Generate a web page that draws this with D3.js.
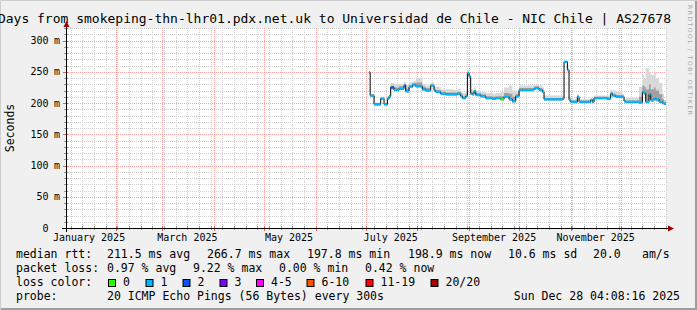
<!DOCTYPE html>
<html><head><meta charset="utf-8">
<script src="https://cdn.jsdelivr.net/npm/d3@7"></script>
<style>
html,body{margin:0;padding:0;background:#f0f0f0;}
svg{display:block;font-family:"DejaVu Sans Mono",monospace;}
</style>
</head><body>
<svg id="c" width="697" height="310"></svg>
<script>
// ---- data ----
const dates = ["2025-07-03T00:00Z","2025-07-03T16:00Z","2025-07-06","2025-07-08","2025-07-10","2025-07-12","2025-07-14","2025-07-15","2025-07-16","2025-07-18",
"2025-07-21","2025-07-24","2025-07-25","2025-07-27","2025-07-29","2025-07-31","2025-08-04","2025-08-06","2025-08-09","2025-08-11",
"2025-08-12","2025-08-15","2025-08-18","2025-08-23","2025-08-25","2025-08-27","2025-08-28","2025-08-30","2025-08-31","2025-09-01",
"2025-09-02","2025-09-03","2025-09-04","2025-09-05","2025-09-08","2025-09-11","2025-09-15","2025-09-17","2025-09-20","2025-09-22",
"2025-09-25","2025-09-27","2025-09-29","2025-10-01","2025-10-03","2025-10-10","2025-10-11","2025-10-13","2025-10-15","2025-10-16",
"2025-10-27","2025-10-28","2025-10-29","2025-10-30","2025-10-31","2025-11-01","2025-11-05","2025-11-06","2025-11-13","2025-11-14",
"2025-11-15","2025-11-23","2025-11-25","2025-11-26","2025-11-28","2025-12-02","2025-12-03","2025-12-04","2025-12-12","2025-12-14",
"2025-12-15","2025-12-16","2025-12-18","2025-12-19","2025-12-21","2025-12-22","2025-12-24","2025-12-26","2025-12-27"];
const medianMs = [249,212,198,198,207,198,207,211,225,221, 223,228,219,226,229,227,222,220,228,220,
218,215,214,214,215,211,208,211,248,242, 215,214,219,213,211,208,207,208,206,210,
206,203,211,221,221,223,224,221,218,206, 207,266,266,253,205,202,210,202,205,202,
208,207,215,212,210,210,203,202,201,218, 216,202,214,205,207,206,202,200,199];
const smokeHi = [252,215,201,201,210,201,210,214,232,230, 231,234,229,233,235,240,230,228,233,227,
226,222,222,221,222,218,216,218,252,246, 222,221,224,220,218,216,215,216,218,225,
228,220,218,228,228,229,230,228,225,212, 212,268,268,256,210,206,214,206,208,206,
212,212,222,220,218,214,206,208,226,245, 240,256,250,245,250,240,232,215,205];
const smokeDark = [251,214,200,200,209,200,209,213,228,225, 227,231,223,229,232,233,226,224,230,223,
221,218,217,217,218,214,211,214,250,244, 218,217,221,216,214,211,210,211,211,216,
215,210,214,224,224,226,227,224,221,208, 209,267,267,254,207,204,212,204,206,204,
210,209,218,215,213,212,204,204,210,228, 226,222,230,222,225,220,214,206,202];
const smokeLo = [247,210,196,196,205,196,205,209,222,219, 221,226,217,224,227,225,220,218,226,218,
216,213,212,212,213,209,206,209,246,240, 213,212,217,211,209,206,205,206,204,208,
204,201,209,219,219,221,222,219,216,204, 205,264,264,251,203,200,208,200,203,200,
206,205,213,210,208,208,201,200,199,215, 213,200,210,202,204,203,200,198,197];
const lossIdx = [1,1,1,1,1,1,1,1,2,1, 1,2,1,1,1,1,1,1,1,1,
1,1,1,1,1,1,1,1,1,1, 1,1,1,1,1,1,1,1,0,1,
1,1,1,1,1,1,1,1,1,1, 1,1,1,1,1,1,1,1,1,1,
1,1,1,1,1,1,1,1,1,1, 1,1,1,1,1,1,1,1,1];
const lossLabels = ["0","1","2","3","4-5","6-10","11-19","20/20"];
const lossColors = ["#26ff00","#00b8ff","#0059ff","#7e00ff","#ff00ff","#ff5500","#ff0000","#a10000"];
const yTicks = [0,50,100,150,200,250,300];
const startTime = "2025-01-02T04:08:16Z", endTime = "2025-12-28T04:08:16Z";
const titleText = "Days from smokeping-thn-lhr01.pdx.net.uk to Universidad de Chile - NIC Chile | AS27678";
const statRtt = [["211.5 ms avg",107],["266.7 ms max",207],["197.8 ms min",307],["198.9 ms now",408],["10.6 ms sd",508],["20.0",593],["am/s",642]];
const statLoss = [["0.97 % avg",107],["9.22 % max",193],["0.00 % min",279],["0.42 % now",365]];
const probeText = "20 ICMP Echo Pings (56 Bytes) every 300s";
const stampText = "Sun Dec 28 04:08:16 2025";

// ---- layout ----
const W=697,H=310, L=66,R=666,T=28,B=228;
const svg=d3.select("#c");
svg.append("rect").attr("width",W).attr("height",H).attr("fill","#f0f0f0");
svg.append("path").attr("d",`M0.5,${H} V0.5 H${W}`).attr("fill","none").attr("stroke","#cfcfcf").attr("stroke-width",1);
svg.append("path").attr("d",`M1,${H-1} H${W-1} V1`).attr("fill","none").attr("stroke","#9e9e9e").attr("stroke-width",2);

const x=d3.scaleUtc().domain([new Date(startTime),new Date(endTime)]).range([L,R]);
const y=d3.scaleLinear().domain([0,320]).range([B,T]);

svg.append("rect").attr("x",L).attr("y",T).attr("width",R-L).attr("height",B-T).attr("fill","#fff");

// grid
const g=svg.append("g");
const minorY=d3.range(10,321,10).filter(v=>v%50!==0);
const weeks=d3.utcSunday.range(x.domain()[0],x.domain()[1]);
const majorY=yTicks.filter(v=>v>0);
const months=d3.utcMonth.range(x.domain()[0],x.domain()[1]);
g.selectAll(".hy").data(minorY).enter().append("line")
 .attr("x1",L).attr("x2",R).attr("y1",d=>Math.round(y(d))+0.5).attr("y2",d=>Math.round(y(d))+0.5)
 .attr("stroke","#d0d0d0").attr("stroke-dasharray","1,1");
g.selectAll(".vx").data(weeks).enter().append("line")
 .attr("y1",T).attr("y2",B).attr("x1",d=>Math.round(x(d))+0.5).attr("x2",d=>Math.round(x(d))+0.5)
 .attr("stroke","#d0d0d0").attr("stroke-dasharray","1,1");
g.selectAll(".my").data(majorY).enter().append("line")
 .attr("x1",L).attr("x2",R).attr("y1",d=>Math.round(y(d))+0.5).attr("y2",d=>Math.round(y(d))+0.5)
 .attr("stroke","#ffa0a0").attr("stroke-dasharray","1,1");
g.selectAll(".mx").data(months).enter().append("line")
 .attr("y1",T).attr("y2",B).attr("x1",d=>Math.round(x(d))+0.5).attr("x2",d=>Math.round(x(d))+0.5)
 .attr("stroke","#ffa0a0").attr("stroke-dasharray","1,1");

// data
const data=dates.map((d,i)=>({t:new Date(d),m:medianMs[i],hi:smokeHi[i],dk:smokeDark[i],lo:smokeLo[i],loss:lossIdx[i]}));
const ext=data.concat([Object.assign({},data[data.length-1],{t:x.domain()[1]})]);
const areaHi=d3.area().curve(d3.curveStepAfter).x(d=>x(d.t)).y0(d=>y(d.lo)).y1(d=>y(d.hi));
const areaDk=d3.area().curve(d3.curveStepAfter).x(d=>x(d.t)).y0(d=>y(d.lo)).y1(d=>y(d.dk));
svg.append("path").datum(ext).attr("d",areaHi).attr("fill","#d8d8d8");
svg.append("path").datum(ext).attr("d",areaDk).attr("fill","#a0a0a0");
const line=d3.line().curve(d3.curveStepAfter).x(d=>x(d.t)).y(d=>y(d.m));
svg.append("path").datum(ext).attr("d",line).attr("fill","none").attr("stroke","#000").attr("stroke-width",1);
svg.selectAll(".seg").data(data).enter().append("rect")
 .attr("x",d=>x(d.t)).attr("width",(d,i)=>Math.max(0.8,x(ext[i+1].t)-x(d.t)))
 .attr("y",d=>y(d.m)-1).attr("height",2.2).attr("fill",d=>lossColors[d.loss]);

// axes
const ax=svg.append("g");
ax.selectAll(".tw").data(weeks).enter().append("line")
 .attr("x1",d=>Math.round(x(d))+0.5).attr("x2",d=>Math.round(x(d))+0.5).attr("y1",B-2).attr("y2",B+2).attr("stroke","#999");
ax.selectAll(".tm").data(months).enter().append("line")
 .attr("x1",d=>Math.round(x(d))+0.5).attr("x2",d=>Math.round(x(d))+0.5).attr("y1",B-2).attr("y2",B+3).attr("stroke","#e06060");
ax.selectAll(".ty").data(minorY).enter().append("line")
 .attr("y1",d=>Math.round(y(d))+0.5).attr("y2",d=>Math.round(y(d))+0.5).attr("x1",L-2).attr("x2",L+2).attr("stroke","#999");
ax.selectAll(".tY").data(majorY).enter().append("line")
 .attr("y1",d=>Math.round(y(d))+0.5).attr("y2",d=>Math.round(y(d))+0.5).attr("x1",L-3).attr("x2",L+2).attr("stroke","#e06060");
ax.append("line").attr("x1",L-4).attr("x2",R+3).attr("y1",B+0.5).attr("y2",B+0.5).attr("stroke","#000");
ax.append("line").attr("x1",L+0.5).attr("x2",L+0.5).attr("y1",B+4).attr("y2",T-2).attr("stroke","#000");
ax.append("path").attr("d",`M${R+2},${B-2.5} L${R+8},${B+0.5} L${R+2},${B+3.5} Z`).attr("fill","#a00000");
ax.append("path").attr("d",`M${L-2.5},${T-1} L${L+0.5},${T-7} L${L+3.5},${T-1} Z`).attr("fill","#a00000");

// x labels
const labMonths=d3.utcMonth.every(2).range(new Date("2025-01-01T00:00Z"),x.domain()[1]);
svg.selectAll(".xl").data(labMonths).enter().append("text")
 .attr("x",d=>x(d3.utcDay.offset(d,15))).attr("y",241).attr("text-anchor","middle")
 .attr("font-size","10px").attr("fill","#000").text(d=>d3.utcFormat("%B %Y")(d));
// y labels
svg.selectAll(".yl").data(yTicks).enter().append("text")
 .attr("x",48.5).attr("y",d=>y(d)).attr("dy","0.35em").attr("text-anchor","end")
 .attr("font-size","10px").attr("fill","#000").text(d=>d);
svg.selectAll(".yu").data(majorY).enter().append("text")
 .attr("x",54).attr("y",d=>y(d)).attr("dy","0.35em")
 .attr("font-size","10px").attr("fill","#000").text("m");
svg.append("text").attr("transform",`translate(14,${(T+B)/2}) rotate(-90)`).attr("text-anchor","middle")
 .attr("font-size","11.5px").text("Seconds");

// title
svg.append("text").attr("x",671).attr("y",23).attr("text-anchor","end").attr("font-size","13px").text(titleText);
// watermark
svg.append("text").attr("transform","translate(688,5) rotate(90)").attr("font-family","DejaVu Sans")
 .attr("font-size","6px").attr("fill","#a8a8a8").attr("textLength",110).attr("lengthAdjust","spacing")
 .text("RRDTOOL / TOBI OETIKER");

// legend
const fs="11.5px";
const rows=[258,272,286,300];
svg.append("text").attr("x",16).attr("y",rows[0]).attr("font-size",fs).text("median rtt:");
statRtt.forEach(([t,px])=>svg.append("text").attr("x",px).attr("y",rows[0]).attr("font-size",fs).text(t));
svg.append("text").attr("x",16).attr("y",rows[1]).attr("font-size",fs).text("packet loss:");
statLoss.forEach(([t,px])=>svg.append("text").attr("x",px).attr("y",rows[1]).attr("font-size",fs).text(t));
svg.append("text").attr("x",16).attr("y",rows[2]).attr("font-size",fs).text("loss color:");
const swX=[108,145.5,182.5,219.5,256,306.5,365.5,430.5];
lossLabels.forEach((lab,i)=>{
  svg.append("rect").attr("x",swX[i]+0.5).attr("y",279.5).attr("width",7).attr("height",7)
    .attr("fill",lossColors[i]).attr("stroke","#000").attr("stroke-width",1);
  svg.append("text").attr("x",swX[i]+15).attr("y",rows[2]).attr("font-size",fs).text(lab);
});
svg.append("text").attr("x",16).attr("y",rows[3]).attr("font-size",fs).text("probe:");
svg.append("text").attr("x",107).attr("y",rows[3]).attr("font-size",fs).text(probeText);
svg.append("text").attr("x",680).attr("y",rows[3]).attr("text-anchor","end").attr("font-size",fs).text(stampText);
</script>
</body></html>
